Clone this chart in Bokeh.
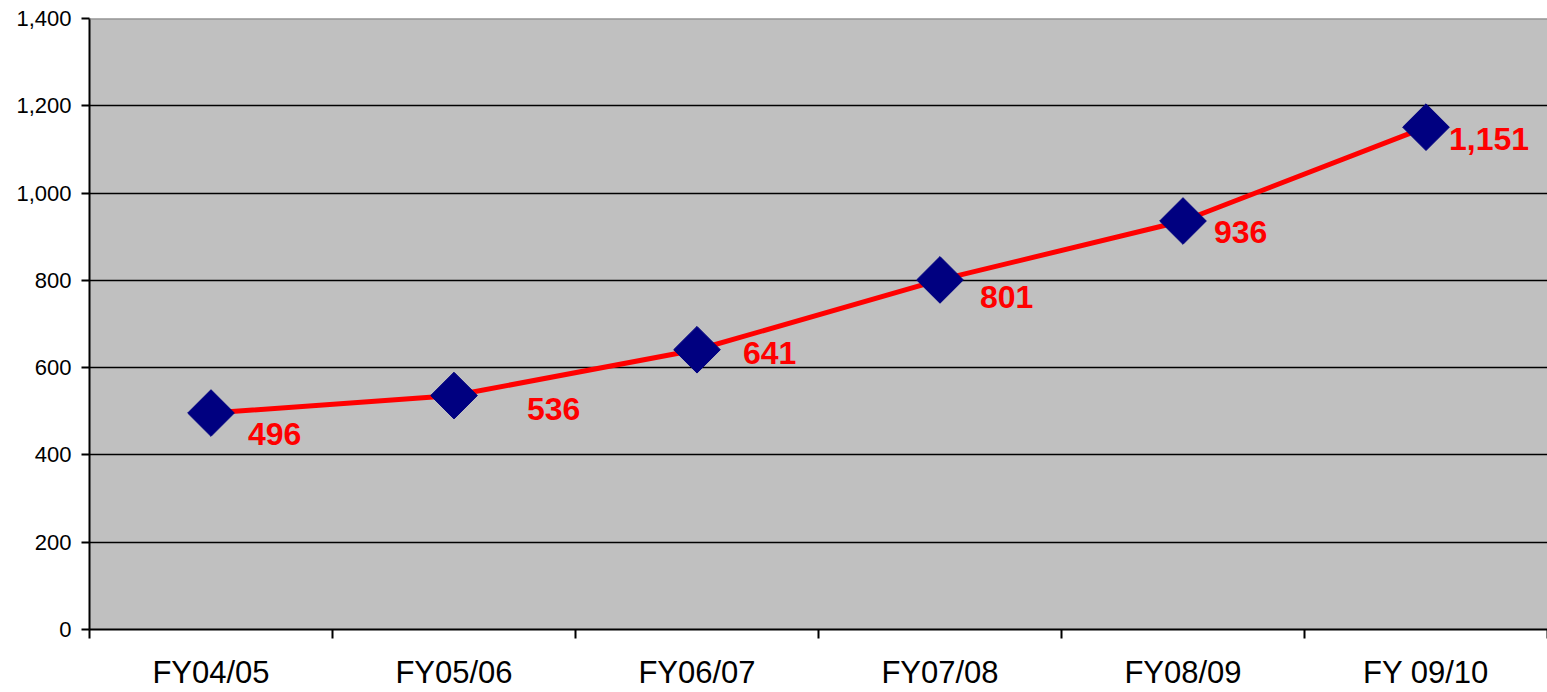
import math
from bokeh.plotting import figure
from bokeh.models import ColumnDataSource, FixedTicker, Span
from bokeh.core.properties import value
from bokeh.embed import file_html
from bokeh.resources import INLINE

# ---- data ----
categories = ["FY04/05", "FY05/06", "FY06/07", "FY07/08", "FY08/09", "FY 09/10"]
values = [496, 536, 641, 801, 936, 1151]
value_labels = ["496", "536", "641", "801", "936", "1,151"]
y_ticks = [0, 200, 400, 600, 800, 1000, 1200, 1400]

# ---- style: label offsets in screen pixels ----
label_dx = [37, 73, 46, 40, 31, 23]
label_dy = [21, 13, 3, 17, 11, 12]

xpos = [i + 0.5 for i in range(len(categories))]
src = ColumnDataSource(dict(x=xpos, y=values, lab=value_labels,
                            dx=label_dx, dy=label_dy))

p = figure(width=1547, height=692, output_backend="svg", toolbar_location=None,
           x_range=(0, len(categories)), y_range=(0, 1400),
           min_border_left=89, min_border_top=18, min_border_right=0,
           min_border_bottom=61)
p.border_fill_color = "white"
p.outline_line_color = None
p.background_fill_color = "#C0C0C0"

# y axis
p.yaxis.ticker = FixedTicker(ticks=y_ticks)
p.yaxis.major_label_overrides = {t: f"{t:,}" for t in y_ticks}
p.yaxis.major_label_text_font = "Liberation Sans"
p.yaxis.major_label_text_font_size = "22px"
p.yaxis.major_label_text_color = "black"
p.yaxis.major_tick_in = 0
p.yaxis.major_tick_out = 8
p.yaxis.minor_tick_line_color = None
p.yaxis.major_label_standoff = 10
p.yaxis.axis_line_width = 2
p.yaxis.axis_line_color = "black"
p.yaxis.major_tick_line_width = 2

# x axis
p.xaxis.ticker = FixedTicker(ticks=xpos, minor_ticks=list(range(len(categories) + 1)))
p.xaxis.major_label_overrides = {x: c for x, c in zip(xpos, categories)}
p.xaxis.major_label_text_font = "Liberation Sans"
p.xaxis.major_label_text_font_size = "31px"
p.xaxis.major_label_text_color = "black"
p.xaxis.major_tick_line_color = None
p.xaxis.major_tick_in = 0
p.xaxis.major_tick_out = 0
p.xaxis.minor_tick_in = 0
p.xaxis.minor_tick_out = 9
p.xaxis.minor_tick_line_width = 2
p.xaxis.minor_tick_line_color = "black"
p.xaxis.major_label_standoff = 16
p.xaxis.axis_line_width = 2
p.xaxis.axis_line_color = "black"

# grid
p.xgrid.grid_line_color = None
p.ygrid.ticker = FixedTicker(ticks=y_ticks[1:-1])
p.ygrid.grid_line_color = "black"
p.ygrid.grid_line_width = 1.5

p.add_layout(Span(location=1400, dimension="width", line_color="#808080", line_width=2))

# series
p.line("x", "y", source=src, line_color="#FF0000", line_width=5)
p.scatter("x", "y", source=src, marker="square", size=33, angle=math.pi / 4,
          fill_color="#000080", line_color="#000080")
p.text("x", "y", text="lab", source=src, x_offset="dx", y_offset="dy",
       text_font=value("Liberation Sans"), text_font_style="bold",
       text_font_size="32px", text_color="#FF0000",
       text_align="left", text_baseline="middle")

open("out.html", "w").write(file_html(p, INLINE))
